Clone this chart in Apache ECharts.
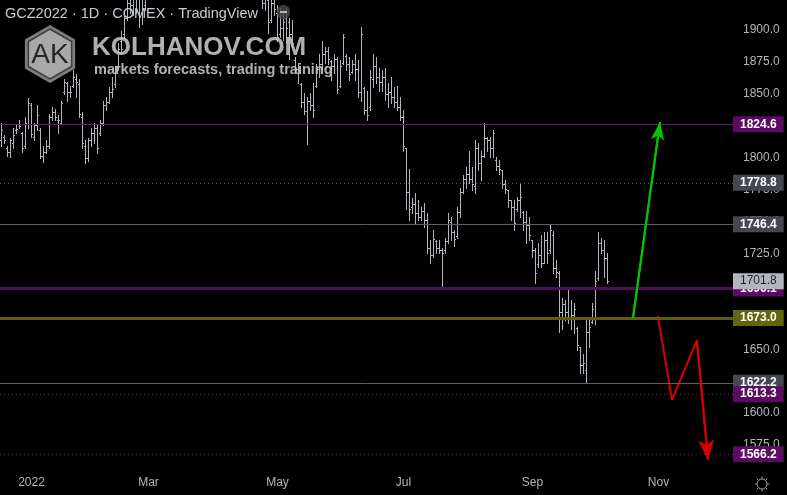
<!DOCTYPE html>
<html>
<head>
<meta charset="utf-8">
<script src="https://cdn.jsdelivr.net/npm/echarts@6/dist/echarts.min.js"></script>
<style>
html,body{margin:0;padding:0;background:#000;}
#chart{width:787px;height:495px;}
</style>
</head>
<body>
<div id="chart"></div>
<script>
// ---------- DATA ----------
const titleText = 'GCZ2022 · 1D · COMEX · TradingView';
const firstDate = [2021, 11, 17];           // 2021-12-17 (first bar)
const holidays = ['2021-12-24','2022-01-17','2022-02-21','2022-04-15','2022-05-30',
                  '2022-06-20','2022-07-04','2022-09-05','2022-11-24'];
const categoryCount = 245;                  // trading days incl. future space
const tickDates = ['2022-01-03','2022-03-01','2022-05-02','2022-07-01','2022-09-01','2022-11-01'];
const tickTexts = ['2022','Mar','May','Jul','Sep','Nov'];

// daily bars: [open, high, low, close]
const ohlc = [
[1812,1826,1808,1820],[1815,1816,1810,1812],[1806,1808,1800,1803],[1803,1814,1799,1812],[1810,1822,1806,1816],
[1820,1824,1818,1821],[1825,1828,1822,1823],[1818,1819,1803,1806],[1808,1830,1806,1826],[1825,1845,1822,1841],
[1840,1841,1815,1817],[1815,1826,1812,1824],[1824,1840,1820,1832],[1820,1822,1798,1800],[1800,1808,1795,1803],
[1803,1812,1802,1808],[1808,1833,1806,1830],[1830,1838,1828,1834],[1834,1837,1828,1830],[1828,1832,1818,1828],
[1826,1843,1825,1841],[1850,1860,1848,1858],[1857,1858,1843,1850],[1850,1855,1846,1850],[1855,1867,1854,1862],
[1860,1864,1846,1858],[1856,1860,1830,1833],[1830,1834,1806,1810],[1808,1812,1794,1798],[1798,1814,1796,1812],
[1812,1822,1808,1818],[1818,1826,1810,1822],[1822,1824,1802,1806],[1818,1828,1816,1826],[1826,1843,1824,1840],
[1840,1846,1836,1842],[1842,1854,1841,1850],[1850,1862,1846,1852],[1856,1870,1854,1868],[1870,1888,1867,1884],
[1890,1898,1880,1884],[1895,1912,1893,1908],[1908,1925,1906,1920],[1920,1930,1912,1918],[1918,1935,1910,1930],
[1930,1945,1912,1935],[1935,1998,1901,1930],[1930,1940,1903,1915],[1918,1950,1914,1940],[1940,1975,1935,1970],
[1970,1972,1940,1948],[1948,1960,1940,1955],[1955,1995,1950,1990],[1995,2030,1985,2020],[2020,2095,2015,2065],
[2065,2070,1990,2000],[2000,2030,1990,2020],[2020,2025,1990,2005],[2005,2008,1960,1975],[1975,1980,1940,1950],
[1950,1960,1930,1950],[1950,1975,1945,1965],[1965,1970,1940,1945],[1945,1960,1935,1955],[1955,1965,1940,1945],
[1945,1975,1942,1970],[1970,1985,1960,1980],[1980,1990,1965,1975],[1975,1978,1940,1945],[1945,1950,1926,1935],
[1935,1960,1932,1955],[1955,1965,1945,1960],[1960,1968,1935,1945],[1945,1960,1940,1955],[1955,1965,1940,1945],
[1945,1960,1938,1952],[1952,1960,1942,1955],[1955,1970,1950,1965],[1965,1985,1960,1980],[1980,1995,1970,1990],
[1990,2005,1985,1998],[1998,2000,1975,1990],[1990,2020,1985,2005],[2005,2008,1965,1970],[1970,1975,1955,1965],
[1965,1978,1950,1958],[1958,1962,1935,1940],[1938,1945,1916,1920],[1920,1935,1914,1925],[1922,1930,1896,1905],
[1906,1925,1905,1920],[1920,1935,1910,1915],[1912,1918,1890,1893],[1895,1916,1893,1900],[1900,1912,1891,1905],
[1908,1916,1888,1900],[1905,1908,1876,1895],[1895,1906,1885,1888],[1875,1877,1865,1868],[1868,1873,1857,1870],
[1856,1857,1838,1842],[1842,1849,1833,1835],[1835,1846,1809,1843],[1843,1849,1836,1840],[1840,1857,1830,1836],
[1855,1872,1854,1868],[1868,1880,1862,1872],[1872,1890,1865,1880],[1880,1885,1873,1882],[1882,1885,1872,1876],
[1874,1875,1859,1870],[1870,1880,1865,1876],[1876,1877,1849,1852],[1855,1875,1854,1870],[1873,1895,1872,1893],
[1878,1880,1867,1872],[1872,1877,1859,1864],[1866,1875,1865,1872],[1872,1880,1859,1868],[1868,1875,1846,1850],
[1850,1901,1843,1895],[1853,1854,1833,1836],[1836,1851,1828,1832],[1838,1867,1836,1862],[1860,1880,1854,1870],
[1870,1877,1857,1862],[1862,1869,1851,1858],[1858,1867,1851,1862],[1862,1869,1844,1848],[1848,1857,1838,1850],
[1850,1862,1841,1846],[1846,1854,1838,1842],[1842,1855,1836,1838],[1838,1846,1828,1830],[1830,1836,1804,1808],
[1806,1806,1758,1772],[1772,1790,1750,1758],[1760,1767,1755,1762],[1762,1771,1747,1755],[1755,1765,1750,1752],
[1752,1760,1750,1757],[1757,1763,1744,1750],[1750,1755,1724,1728],[1728,1734,1716,1722],[1722,1742,1721,1735],
[1733,1734,1724,1728],[1728,1734,1724,1726],[1726,1728,1697,1724],[1726,1736,1724,1733],[1733,1755,1732,1750],
[1748,1752,1734,1740],[1740,1742,1729,1735],[1737,1760,1736,1756],[1756,1775,1752,1772],[1772,1785,1771,1782],
[1782,1791,1775,1786],[1786,1804,1779,1782],[1782,1791,1773,1778],[1776,1812,1771,1806],[1806,1810,1789,1794],
[1794,1804,1781,1800],[1800,1826,1799,1814],[1814,1815,1804,1812],[1812,1815,1799,1806],[1806,1820,1799,1818],
[1797,1799,1789,1792],[1792,1797,1786,1790],[1789,1789,1775,1778],[1778,1781,1771,1774],[1773,1773,1760,1765],
[1765,1765,1750,1760],[1760,1765,1742,1747],[1758,1768,1757,1765],[1765,1779,1752,1768],[1756,1757,1742,1748],
[1748,1757,1732,1746],[1746,1752,1734,1738],[1734,1734,1721,1726],[1726,1728,1700,1708],[1715,1732,1713,1722],
[1722,1738,1713,1716],[1716,1740,1716,1734],[1734,1740,1716,1724],[1726,1746,1724,1742],[1738,1741,1708,1712],
[1712,1718,1705,1709],[1708,1710,1662,1678],[1678,1689,1664,1684],[1684,1687,1671,1678],[1678,1697,1669,1672],
[1672,1687,1664,1675],[1675,1685,1661,1680],[1665,1666,1648,1652],[1650,1650,1630,1636],[1636,1645,1630,1638],
[1632,1671,1623,1662],[1662,1674,1650,1666],[1670,1685,1669,1680],[1672,1710,1668,1702],[1704,1740,1703,1732],
[1732,1736,1724,1726],[1726,1734,1705,1720],[1720,1724,1700,1701.8]
];

// horizontal levels (price) and the last-price tag
const levelPrices = [1824.6, 1778.8, 1746.4, 1696.1, 1701.8, 1673.0, 1622.2, 1613.3, 1566.2];

// forecast arrows: [bar index, price]
const greenArrow = [[210.5, 1673.0], [219.5, 1826.4]];
const redArrow = [[218.8, 1674.5], [223.5, 1608.8], [231.8, 1655.7], [235.5, 1561.8]];

// ---------- STYLE ----------
const FONT = 'Liberation Sans';
const barColor = '#b2b5be';
const purpleBox = '#5a0c60', grayBox = '#45474f', oliveBox = '#64640c';
const levelStyles = [
  {line:{color:'#6e1474', width:1, type:'solid'}, box:purpleBox, text:'#ffffff', bold:true},
  {line:{color:'#5d606b', width:1, type:[1,3]}, box:grayBox, text:'#ffffff', bold:true},
  {line:{color:'#5d606b', width:1, type:'solid'}, box:grayBox, text:'#ffffff', bold:true},
  {line:{color:'#5a0b60', width:3, type:'solid'}, box:purpleBox, text:'#ffffff', bold:true},
  {line:{color:'rgba(0,0,0,0)', width:0, type:'solid'}, box:'#b2b5be', text:'#1e222d', bold:false},
  {line:{color:'#5e5e06', width:3, type:'solid'}, box:oliveBox, text:'#ffffff', bold:true},
  {line:{color:'#5d606b', width:1, type:'solid'}, box:grayBox, text:'#ffffff', bold:true},
  {line:{color:'#7a1a80', width:1, type:[1,3]}, box:purpleBox, text:'#ffffff', bold:true},
  {line:{color:'#7a1a80', width:1, type:[1,3]}, box:purpleBox, text:'#ffffff', bold:true}
];

function buildDates() {
  const out = [];
  const d = new Date(Date.UTC(firstDate[0], firstDate[1], firstDate[2]));
  while (out.length < categoryCount) {
    const wd = d.getUTCDay();
    const s = d.toISOString().slice(0, 10);
    if (wd !== 0 && wd !== 6 && holidays.indexOf(s) < 0) out.push(s);
    d.setUTCDate(d.getUTCDate() + 1);
  }
  return out;
}
const categories = buildDates();
const barData = ohlc.map((r, i) => [i, r[0], r[1], r[2], r[3]]);

const chart = echarts.init(document.getElementById('chart'), null, {renderer: 'canvas'});

function renderBar(params, api) {
  const i = api.value(0);
  const pO = api.coord([i, api.value(1)]);
  const pH = api.coord([i, api.value(2)]);
  const pL = api.coord([i, api.value(3)]);
  const pC = api.coord([i, api.value(4)]);
  const x = Math.floor(pH[0]);
  const yH = Math.round(pH[1]), yL = Math.round(pL[1]);
  const st = {fill: barColor};
  return {type: 'group', children: [
    {type: 'rect', shape: {x: x, y: yH, width: 1, height: Math.max(1, yL - yH + 1)}, style: st},
    {type: 'rect', shape: {x: x - 1, y: Math.round(pO[1]), width: 1, height: 1}, style: st},
    {type: 'rect', shape: {x: x + 1, y: Math.round(pC[1]), width: 1, height: 1}, style: st}
  ]};
}

const levelMarks = levelPrices.map((v, k) => {
  const s = levelStyles[k];
  return {
    yAxis: v,
    lineStyle: {color: s.line.color, width: s.line.width, type: s.line.type, opacity: 1},
    label: {
      show: true, position: 'end', distance: -2,
      formatter: v.toFixed(1),
      backgroundColor: s.box, color: s.text,
      fontWeight: s.bold ? 'bold' : 'normal',
      fontSize: 12, fontFamily: FONT, lineHeight: 12,
      padding: [2, 7, 2, 7]
    }
  };
});

function hexPoints(cx, cy, r) {
  const pts = [];
  for (let k = 0; k < 6; k++) {
    const a = Math.PI / 180 * (60 * k - 90);
    pts.push([cx + r * Math.cos(a), cy + r * Math.sin(a)]);
  }
  return pts;
}
const gearSpokes = [];
for (let k = 0; k < 8; k++) {
  const a = Math.PI / 4 * k;
  gearSpokes.push({type: 'line', z: 100, silent: true,
    shape: {x1: 762 + 5 * Math.cos(a), y1: 484 + 5 * Math.sin(a), x2: 762 + 7.5 * Math.cos(a), y2: 484 + 7.5 * Math.sin(a)},
    style: {stroke: '#9a9ca4', lineWidth: 1}});
}

const option = {
  backgroundColor: '#000000',
  animation: false,
  title: {
    text: titleText, left: 5, top: 6, padding: 0,
    textStyle: {color: '#c9ccd4', fontSize: 14.5, fontWeight: 'normal', fontFamily: FONT}
  },
  grid: {left: 0, right: 52, top: 0, bottom: 20},
  xAxis: [{
    type: 'category', data: categories, boundaryGap: true,
    axisLine: {show: false}, axisTick: {show: false}, splitLine: {show: false},
    axisLabel: {
      color: '#b2b5be', fontSize: 12, fontFamily: FONT, margin: 2,
      interval: (idx, val) => tickDates.indexOf(val) >= 0,
      formatter: (val) => { const k = tickDates.indexOf(val); return k >= 0 ? tickTexts[k] : ''; }
    }
  }, {
    type: 'value', min: -0.5, max: categoryCount - 0.5, show: false
  }],
  yAxis: [{
    type: 'value', position: 'right', min: 1550, max: 1922, interval: 25, scale: true,
    axisLine: {show: false}, axisTick: {show: false}, splitLine: {show: false},
    axisLabel: {
      color: '#b2b5be', fontSize: 12, fontFamily: FONT, margin: 8,
      verticalAlign: 'top', lineHeight: 4,
      showMinLabel: false, showMaxLabel: false,
      formatter: (v) => (Math.abs(v % 25) < 1e-6 ? v.toFixed(1) : '')
    }
  }],
  series: [
    {
      name: 'levels', type: 'line', data: [], z: 1, silent: true,
      markLine: {silent: true, symbol: ['none', 'none'], animation: false, data: levelMarks}
    },
    {
      name: 'GCZ2022', type: 'custom', renderItem: renderBar, data: barData, z: 3, clip: true,
      encode: {x: 0, y: [1, 2, 3, 4]}
    },
    {
      name: 'up', type: 'line', xAxisIndex: 1, data: greenArrow, z: 4, silent: true,
      showSymbol: false, lineStyle: {color: '#00c800', width: 2},
      markLine: {silent: true, symbol: ['none', 'arrow'], symbolSize: [10, 18], animation: false,
        lineStyle: {color: '#00c800', width: 2, type: 'solid'}, label: {show: false},
        data: [[{coord: greenArrow[0]}, {coord: greenArrow[1]}]]}
    },
    {
      name: 'down', type: 'line', xAxisIndex: 1, data: redArrow, z: 4, silent: true,
      showSymbol: false, lineStyle: {color: '#d80000', width: 2},
      markLine: {silent: true, symbol: ['none', 'arrow'], symbolSize: [12, 20], animation: false,
        lineStyle: {color: '#d80000', width: 2, type: 'solid'}, label: {show: false},
        data: [[{coord: redArrow[2]}, {coord: redArrow[3]}]]}
    }
  ],
  graphic: [
    {type: 'polygon', z: 100, silent: true, shape: {points: hexPoints(50, 54, 29)}, style: {fill: '#7d7d7d'}},
    {type: 'polygon', z: 100, silent: true, shape: {points: hexPoints(50, 54, 25)}, style: {fill: '#a8a8a8', stroke: '#3c3c3c', lineWidth: 1.5}},
    {type: 'text', z: 101, silent: true, style: {text: 'AK', x: 50, y: 55, align: 'center', verticalAlign: 'middle', fill: '#262626', font: '28px "Liberation Sans"'}},
    {type: 'text', z: 100, silent: true, style: {text: 'KOLHANOV.COM', x: 92, y: 48, verticalAlign: 'middle', fill: 'rgba(200,200,200,0.88)', font: 'bold 26px "Liberation Sans"'}},
    {type: 'text', z: 100, silent: true, style: {text: 'markets forecasts, trading training', x: 94, y: 70, verticalAlign: 'middle', fill: 'rgba(200,200,200,0.88)', font: 'bold 14.5px "Liberation Sans"'}},
    {type: 'rect', z: 100, silent: true, shape: {x: 277, y: 5, width: 13, height: 14, r: 6}, style: {fill: 'rgba(70,70,72,0.85)'}},
    {type: 'line', z: 101, silent: true, shape: {x1: 280, y1: 12, x2: 287, y2: 12}, style: {stroke: '#b8b8b8', lineWidth: 2}},
    {type: 'circle', z: 100, silent: true, shape: {cx: 762, cy: 484, r: 5}, style: {fill: 'none', stroke: '#9a9ca4', lineWidth: 1}}
  ].concat(gearSpokes)
};
chart.setOption(option);
</script>
</body>
</html>
